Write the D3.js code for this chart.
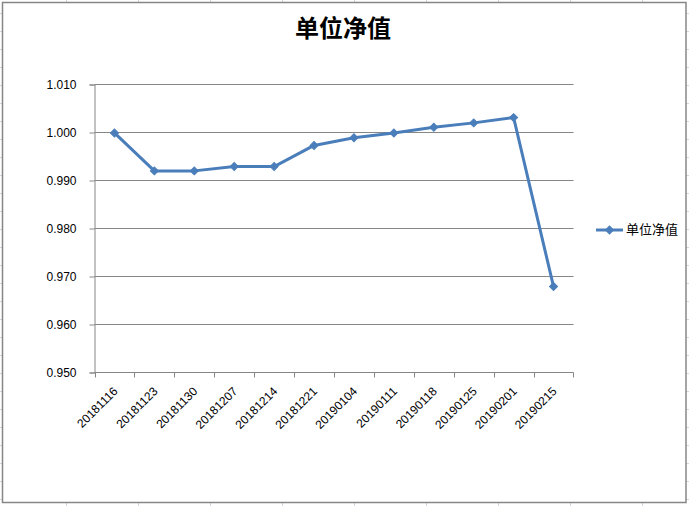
<!DOCTYPE html>
<html><head><meta charset="utf-8">
<script src="https://cdn.jsdelivr.net/npm/d3@7"></script>
<style>html,body{margin:0;padding:0;background:#fff;}svg{display:block;}</style>
</head><body>
<script>
const categories = ["20181116","20181123","20181130","20181207","20181214","20181221","20190104","20190111","20190118","20190125","20190201","20190215"];
const values = [0.9998,0.9919,0.9919,0.9928,0.9928,0.9972,0.9988,0.9998,1.0010,1.0019,1.0030,0.9678];
const yTicks = [0.950,0.960,0.970,0.980,0.990,1.000,1.010];
const seriesName = "单位净值";
const title = "单位净值";

const W = 689, H = 506;
const svg = d3.select("body").append("svg").attr("width", W).attr("height", H);

// spreadsheet background grid
const gridColor = "#d0d7e5";
const bg = svg.append("g");
d3.range(66.5, W, 72).forEach(x => bg.append("line").attr("x1", x).attr("x2", x).attr("y1", 0).attr("y2", H).attr("stroke", gridColor));
d3.range(13.5, H, 18).forEach(y => bg.append("line").attr("x1", 0).attr("x2", W).attr("y1", y).attr("y2", y).attr("stroke", gridColor));

// chart area
svg.append("rect").attr("x", 2.5).attr("y", 2.5).attr("width", 683.5).attr("height", 500)
  .attr("fill", "#fff").attr("stroke", "#868686").attr("stroke-width", 1.5);

const x = d3.scaleBand().domain(categories).range([94.5, 573.5]).padding(0);
const y = d3.scaleLinear().domain([0.95, 1.01]).range([372, 84]);
const axisColor = "#868686";
const font = "'Liberation Sans', Arial, sans-serif";

// gridlines
svg.append("g").selectAll("line").data(yTicks.slice(1)).join("line")
  .attr("x1", 94.5).attr("x2", 573.5)
  .attr("y1", d => Math.round(y(d)) + 0.5).attr("y2", d => Math.round(y(d)) + 0.5)
  .attr("stroke", axisColor).attr("stroke-width", 1);

// y axis
const yAxis = svg.append("g").attr("transform", "translate(94.5,0.5)")
  .call(d3.axisLeft(y).tickValues(yTicks).tickFormat(d3.format(".3f")).tickSize(5).tickPadding(13));
yAxis.select(".domain").attr("stroke", axisColor);
yAxis.selectAll(".tick line").attr("stroke", axisColor);
yAxis.selectAll("text").attr("font-family", font).attr("font-size", 12).attr("fill", "#000");

// x axis
const bounds = categories.map(c => x(c)).concat([x(categories[categories.length-1]) + x.bandwidth()]);
const xg = svg.append("g");
xg.append("line").attr("x1", 94.5).attr("x2", 573.5).attr("y1", 372.5).attr("y2", 372.5).attr("stroke", axisColor);
xg.selectAll("line.t").data(bounds).join("line").attr("class", "t")
  .attr("x1", d => Math.round(d) + 0.5).attr("x2", d => Math.round(d) + 0.5)
  .attr("y1", 372.5).attr("y2", 377.5).attr("stroke", axisColor);
xg.selectAll("text").data(categories).join("text")
  .attr("transform", d => `translate(${x(d) + x.bandwidth()/2 + 1},${389}) rotate(-45)`)
  .attr("text-anchor", "end").attr("dy", "0.35em")
  .attr("font-family", font).attr("font-size", 12).attr("fill", "#000")
  .text(d => d);

// line
const lineColor = "#4a7ebb";
const cx = d => x(d) + x.bandwidth()/2;
svg.append("path").datum(values)
  .attr("d", d3.line().x((d, i) => cx(categories[i])).y(d => y(d)))
  .attr("fill", "none").attr("stroke", lineColor).attr("stroke-width", 3).attr("stroke-linejoin", "round");

svg.append("g").selectAll("path").data(values).join("path")
  .attr("d", d3.symbol().type(d3.symbolSquare).size(32))
  .attr("transform", (d, i) => `translate(${cx(categories[i])},${y(d)}) rotate(45)`)
  .attr("fill", lineColor).attr("stroke", lineColor).attr("stroke-width", 1);

// title
svg.append("text").attr("x", 343).attr("y", 37).attr("text-anchor", "middle")
  .attr("font-family", "'Noto Sans CJK SC', sans-serif").attr("font-size", 24).attr("font-weight", "bold").attr("fill", "#000")
  .text(title);

// legend
const lg = svg.append("g");
lg.append("line").attr("x1", 596).attr("x2", 623).attr("y1", 230).attr("y2", 230).attr("stroke", lineColor).attr("stroke-width", 3);
lg.append("path").attr("d", d3.symbol().type(d3.symbolSquare).size(32)).attr("transform", "translate(609.5,230) rotate(45)")
  .attr("fill", lineColor).attr("stroke", lineColor);
lg.append("text").attr("x", 626).attr("y", 229).attr("dy", "0.35em")
  .attr("font-family", "'Noto Sans CJK SC', sans-serif").attr("font-size", 13).attr("fill", "#000").text(seriesName);
</script>
</body></html>
